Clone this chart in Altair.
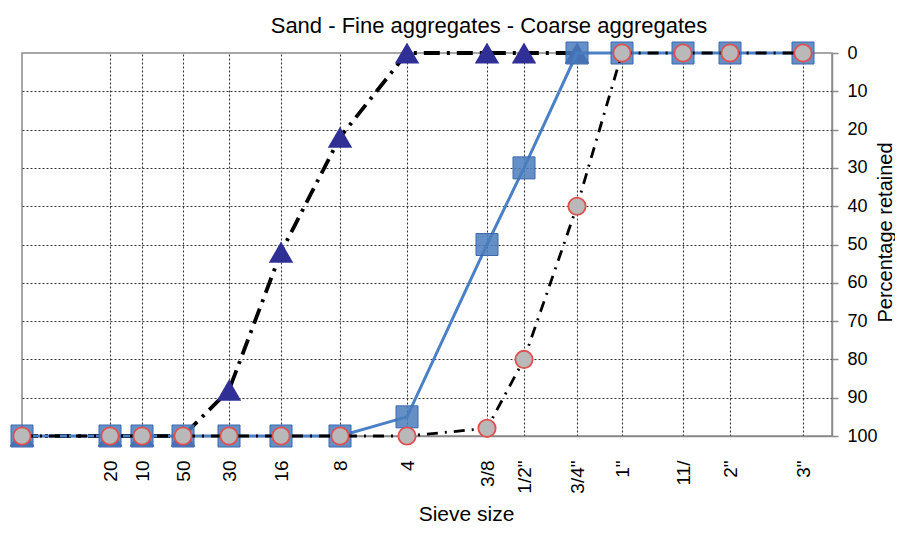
import altair as alt
import pandas as pd

########################################################################################
############# Data #####################################################################
########################################################################################

# sieve labels as printed under the axis, and where each sieve sits along the axis
sieve_labels = ["", "20", "10", "50", "30", "16", "8", "4", "3/8", '1/2"', '3/4"', '1"', "11/", '2"', '3"']
sieve_pos = [0, 88, 120, 161, 207, 259, 318, 385, 465, 502, 555, 600, 661, 708, 781]
axis_end = 810

# percentage retained on each sieve
sand = [100, 100, 100, 100, 88, 52, 22, 0, 0, 0, 0]
fine = [100, 100, 100, 100, 100, 100, 100, 95, 50, 30, 0, 0, 0, 0, 0]
coarse = [100, 100, 100, 100, 100, 100, 100, 100, 98, 80, 40, 0, 0, 0, 0]


def to_df(values):
    return pd.DataFrame({'pos': sieve_pos[:len(values)], 'retained': values})


df_sand = to_df(sand)
df_fine = to_df(fine)
df_coarse = to_df(coarse)

# maps axis positions back to the printed sieve names
label_expr = " : ".join(
    "datum.value == %s ? '%s'" % (p, l) for p, l in zip(sieve_pos[1:], sieve_labels[1:])
) + " : ''"

########################################################################################
############# Encodings shared by all layers ###########################################
########################################################################################

grid_col = '#333333'
frame_col = '#8a8a8a'

x_enc = alt.X('pos:Q',
              scale=alt.Scale(domain=[0, axis_end], nice=False, zero=False),
              axis=alt.Axis(values=sieve_pos[1:], labelExpr=label_expr,
                            labelAngle=270, labelAlign='right', labelBaseline='middle',
                            labelPadding=24, ticks=False, tickSize=0,
                            labelFontSize=19, labelColor='black', labelOverlap=False, labelFlush=False,
                            grid=True, gridDash=[2, 2], gridColor=grid_col, gridWidth=1.1,
                            domainColor=frame_col, domainWidth=1.5,
                            title='Sieve size', titleFontSize=21, titleFontWeight='normal',
                            titleColor='black', titleX=444, titleY=84,
                            titleAlign='center', titleBaseline='alphabetic'))

y_enc = alt.Y('retained:Q',
              scale=alt.Scale(domain=[0, 100], reverse=True, nice=False),
              axis=alt.Axis(orient='right', values=list(range(0, 101, 10)),
                            labelFontSize=18, labelColor='black', labelAlign='left',
                            labelPadding=9, tickSize=6, tickColor=frame_col, tickWidth=1.5,
                            grid=True, gridDash=[2, 2], gridColor=grid_col, gridWidth=1.1,
                            gridOpacity={'condition': {'test': 'datum.value == 0 || datum.value == 100', 'value': 0}, 'value': 1},
                            domainColor=frame_col, domainWidth=1.5,
                            title='Percentage retained', titleFontSize=20, titleFontWeight='normal',
                            titleColor='black', titleAngle=270, titleX=53, titleY=179,
                            titleAlign='center', titleBaseline='middle'))

########################################################################################
############# Layers ###################################################################
########################################################################################

sand_line = alt.Chart(df_sand).mark_line(color='black', strokeWidth=3.8, strokeDash=[16, 7, 3, 7]).encode(x=x_enc, y=y_enc)
sand_pts = alt.Chart(df_sand).mark_point(shape='triangle-up', size=600, filled=True, fill='#2f2f96', opacity=1).encode(x=x_enc, y=y_enc)

fine_line = alt.Chart(df_fine).mark_line(color='#4a80c6', strokeWidth=3).encode(x=x_enc, y=y_enc)
fine_pts = alt.Chart(df_fine).mark_point(shape='square', size=484, filled=True, fill='#4a7cbc', fillOpacity=0.85,
                                         stroke='#3a69ad', strokeWidth=1, opacity=1).encode(x=x_enc, y=y_enc)

coarse_line = alt.Chart(df_coarse).mark_line(color='black', strokeWidth=2.8, strokeDash=[11, 7, 2, 7]).encode(x=x_enc, y=y_enc)
coarse_pts = alt.Chart(df_coarse).mark_point(shape='circle', size=300, filled=True, fill='#b9b9b9',
                                             stroke='#e05050', strokeWidth=1.8, opacity=1).encode(x=x_enc, y=y_enc)

chart = alt.layer(sand_line, sand_pts, fine_line, fine_pts, coarse_line, coarse_pts).properties(
    width=810,
    height=383,
    title=alt.TitleParams('Sand - Fine aggregates - Coarse aggregates', fontSize=22, fontWeight='normal',
                          color='black', anchor='middle', frame='group', dx=62, dy=25, offset=10,
                          baseline='alphabetic'),
    autosize=alt.AutoSizeParams(type='none'),
    padding={'left': 14, 'top': 45, 'right': 63, 'bottom': 89}
).configure(
    font='Liberation Sans'
).configure_view(
    stroke=frame_col,
    strokeWidth=1.5
)

chart.save("out.html", embed_options={"renderer": "svg", "actions": False})
